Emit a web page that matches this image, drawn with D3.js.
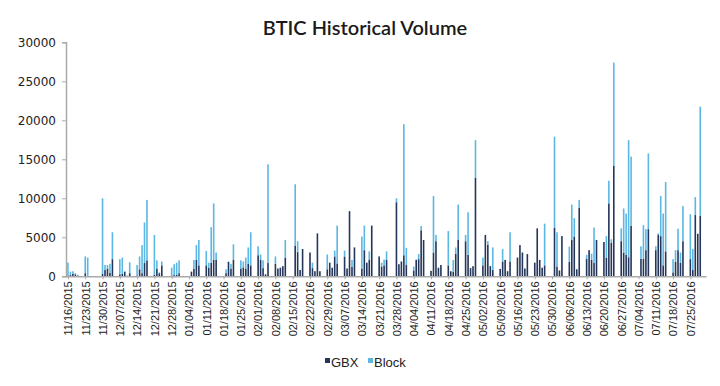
<!DOCTYPE html>
<html>
<head>
<meta charset="utf-8">
<script src="https://cdn.jsdelivr.net/npm/d3@7"></script>
<style>
  body { margin: 0; background: #fff; }
  .axis text { fill: #222; }
</style>
</head>
<body>
<div id="chart"></div>
<script>
// week starting mondays (x tick labels)
var weekStarts = ["11/16/2015","11/23/2015","11/30/2015","12/07/2015","12/14/2015","12/21/2015","12/28/2015",
  "01/04/2016","01/11/2016","01/18/2016","01/25/2016","02/01/2016","02/08/2016","02/15/2016","02/22/2016",
  "02/29/2016","03/07/2016","03/14/2016","03/21/2016","03/28/2016","04/04/2016","04/11/2016","04/18/2016",
  "04/25/2016","05/02/2016","05/09/2016","05/16/2016","05/23/2016","05/30/2016","06/06/2016","06/13/2016",
  "06/20/2016","06/27/2016","07/04/2016","07/11/2016","07/18/2016","07/25/2016"];

// one value per weekday, mon..fri, week after week
var gbx = [
  100,150,350,250,100,   400,50,0,0,20,   300,800,1000,450,2200,   250,300,550,50,400,
  100,900,400,1700,2050,   200,1000,400,1400,0,   100,150,200,400,0,   0,600,950,2100,1400,
  1400,1100,1750,2100,2100,   0,400,1850,1000,2100,   1000,1150,1000,1600,1400,   2700,2100,1050,250,1700,
  1600,1000,1100,1300,2350,   0,3950,3100,800,3500,   3050,1050,650,5500,650,   900,1750,1100,2550,1650,
  2550,1000,8350,1200,3700,   1000,3350,1750,2150,6500,   2550,1250,1400,2100,0,   9500,1550,1900,2700,1500,
  750,2100,2200,5900,4650,   700,3050,4500,1100,1450,   1400,650,550,2900,4700,   4500,2750,1050,1300,12600,
  1400,5300,4050,1300,800,   950,1900,2100,650,1900,   2400,4000,3050,1000,2850,   1750,6150,2100,1100,1400,
  0,6250,1250,750,5150,   1850,4650,5100,900,8800,   2250,3350,2100,1700,4650,   4400,2400,9350,4300,14150,
  4500,3050,2750,2450,6450,   0,2250,2250,3350,6050,   3350,5350,5150,1400,3200,   500,1850,3350,1750,4500,
  2200,800,7850,5450,7750
];
var block = [
  1650,450,300,150,100,   2150,2350,50,0,30,   9700,650,450,1150,3450,   1950,2100,100,50,1400,
  1350,1650,3600,5200,7750,   5100,1050,100,500,0,   1000,1400,1550,1650,0,   0,0,1150,1900,3250,
  1850,650,4550,7250,950,   0,500,50,600,2000,   1050,750,1400,2100,4250,   1150,700,1000,0,12650,
  950,0,0,0,2300,   0,7850,1400,0,0,   0,700,0,0,0,   1900,0,0,750,4850,
  750,0,0,900,0,   4100,3150,0,1050,0,   0,500,750,1100,0,   500,0,50,16800,2150,
  500,50,650,550,0,   0,7250,800,0,0,   4400,0,1550,800,4500,   800,5450,0,0,4850,
  1000,0,450,0,2900,   0,1600,0,0,3750,   0,0,0,0,0,   0,0,0,0,5350,
  0,11650,4400,0,0,   1950,4550,2350,0,1000,   500,0,800,4550,0,   0,2750,2900,450,13250,
  1650,5650,5300,15000,8900,   0,1600,4300,2700,9700,   500,150,5150,6650,8900,   1700,1500,2750,1300,4500,
  5750,2700,2300,0,14000
];
var seriesNames = ["GBX", "Block"];
var colors = ["#24365a", "#5bb8e4"];
var yTicks = [0, 5000, 10000, 15000, 20000, 25000, 30000];

var width = 720, height = 386;
var parse = d3.timeParse("%m/%d/%Y");
var fmt = d3.timeFormat("%m/%d/%Y");
var mondays = weekStarts.map(parse);

var rows = gbx.map(function(v, i) {
  return {
    date: d3.timeDay.offset(mondays[Math.floor(i / 5)], i % 5),
    gbx: v,
    block: block[i]
  };
});

var svg = d3.select("#chart").append("svg")
  .attr("width", width)
  .attr("height", height)
  .style("font-family", "'Liberation Sans', Arial, sans-serif");

var x = d3.scaleTime()
  .domain([d3.timeHour.offset(mondays[0], -19), d3.timeHour.offset(rows[rows.length - 1].date, 56)])
  .range([66, 706]);

var y = d3.scaleLinear()
  .domain([0, 30000])
  .range([276.3, 42.3]);

svg.append("text")
  .attr("x", 365)
  .attr("y", 35)
  .attr("text-anchor", "middle")
  .style("font-family", "Lato, sans-serif")
  .style("font-weight", 600)
  .style("font-size", "20px")
  .style("fill", "#1a1a1a")
  .text("BTIC Historical Volume");

var stacked = d3.stack().keys(["gbx", "block"])(rows);

var barW = 1.6;
svg.append("g").selectAll("g")
  .data(stacked)
  .join("g")
  .attr("fill", function(d, i) { return colors[i]; })
  .selectAll("rect")
  .data(function(d) { return d; })
  .join("rect")
  .attr("x", function(d) { return x(d.data.date) - barW / 2; })
  .attr("y", function(d) { return y(d[1]); })
  .attr("width", barW)
  .attr("height", function(d) { return Math.max(0, y(d[0]) - y(d[1])); });

// y axis
var gY = svg.append("g")
  .attr("class", "axis")
  .attr("transform", "translate(66,0)")
  .call(d3.axisLeft(y).tickValues(yTicks).tickSize(4).tickPadding(6).tickFormat(d3.format("d")));
gY.selectAll("text").style("font-family", "'DejaVu Sans', sans-serif").style("font-size", "12px");
gY.select(".domain").attr("stroke", "#aaa").attr("stroke-width", 1.5);
gY.selectAll(".tick line").attr("stroke", "#aaa");

// x axis
var gX = svg.append("g")
  .attr("class", "axis")
  .attr("transform", "translate(0,276.3)")
  .call(d3.axisBottom(x).tickValues(mondays).tickSize(3).tickSizeOuter(0).tickFormat(fmt));
gX.select(".domain").attr("stroke", "#aaa").attr("stroke-width", 1.5);
gX.selectAll(".tick line").attr("stroke", "#aaa");
gX.selectAll("text")
  .style("font-size", "11px")
  .attr("text-anchor", "end")
  .attr("transform", "rotate(-90)")
  .attr("x", -5)
  .attr("y", 0)
  .attr("dy", "0.35em");

// legend
var legend = svg.append("g").attr("transform", "translate(325,358)");
var items = legend.selectAll("g")
  .data(seriesNames)
  .join("g")
  .attr("transform", function(d, i) { return "translate(" + (i * 43) + ",0)"; });
items.append("rect")
  .attr("width", 5).attr("height", 5)
  .attr("fill", function(d, i) { return colors[i]; });
items.append("text")
  .attr("x", 6).attr("y", 9)
  .style("font-size", "13px")
  .style("fill", "#222")
  .text(function(d) { return d; });
</script>
</body>
</html>
